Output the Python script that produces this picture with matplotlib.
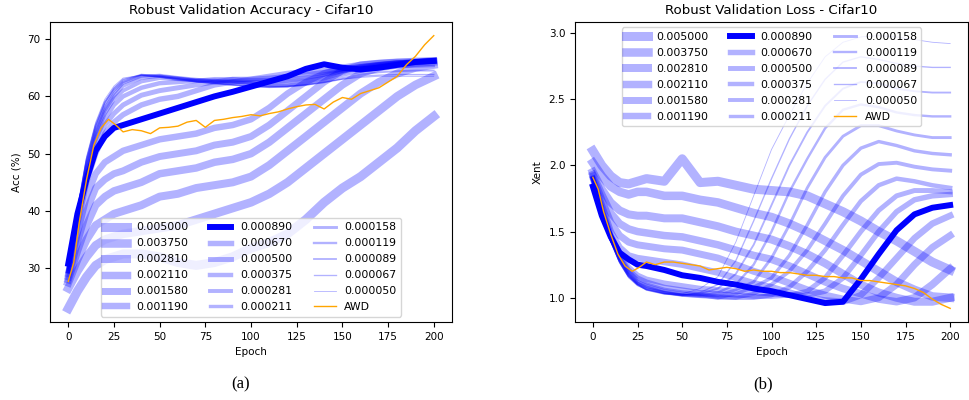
import matplotlib
matplotlib.use("Agg")
import matplotlib.pyplot as plt
import numpy as np

plt.rcParams['font.size'] = 7.5

# weight decay values (legend order)
wds = ["0.005000", "0.003750", "0.002810", "0.002110", "0.001580", "0.001190",
       "0.000890", "0.000670", "0.000500", "0.000375", "0.000281", "0.000211",
       "0.000158", "0.000119", "0.000089", "0.000067", "0.000050"]

epochs = [0, 5, 10, 15, 20, 25, 30, 40, 50, 60, 70, 80, 90, 100, 110, 120,
          130, 140, 150, 160, 170, 180, 190, 200]

# robust validation accuracy (%)
acc_005000 = [23.0, 26.0, 28.5, 30.5, 31.5, 32.0, 32.5, 32.5, 32.0, 31.0, 30.5, 31.0, 32.0, 33.5, 34.5, 36.0, 38.5, 41.5, 44.0, 46.0, 48.5, 51.0, 54.0, 56.5]
acc_003750 = [26.5, 29.5, 32.0, 34.0, 35.0, 35.5, 36.0, 36.5, 37.0, 37.5, 38.5, 39.5, 40.5, 41.5, 43.0, 45.0, 47.5, 50.0, 52.5, 55.0, 57.5, 60.0, 62.0, 63.5]
acc_002810 = [27.5, 31.5, 35.0, 37.5, 38.5, 39.5, 40.0, 41.0, 42.5, 43.0, 44.0, 44.5, 45.0, 46.0, 48.0, 50.5, 53.0, 55.5, 58.0, 60.5, 62.5, 64.0, 65.0, 65.5]
acc_002110 = [28.0, 33.0, 37.5, 41.0, 42.5, 43.5, 44.0, 45.0, 46.5, 47.0, 47.5, 48.5, 49.0, 50.0, 52.0, 54.5, 57.0, 59.5, 62.0, 64.0, 65.0, 65.5, 65.8, 66.0]
acc_001580 = [28.5, 34.5, 40.0, 44.0, 45.5, 46.5, 47.0, 48.5, 49.5, 50.0, 50.5, 51.5, 52.0, 53.0, 55.0, 57.5, 60.0, 62.5, 64.5, 65.5, 65.8, 66.0, 66.0, 66.2]
acc_001190 = [29.0, 36.0, 42.5, 46.5, 48.5, 49.5, 50.5, 51.5, 52.5, 53.0, 53.5, 54.5, 55.0, 56.0, 58.0, 60.5, 62.5, 64.0, 65.0, 65.5, 65.8, 66.0, 66.2, 66.3]
acc_000890 = [30.8, 39.5, 45.5, 50.5, 53.0, 54.5, 55.0, 56.0, 57.0, 58.0, 59.0, 60.0, 60.8, 61.7, 62.6, 63.5, 64.8, 65.6, 65.0, 64.7, 65.0, 65.5, 66.0, 66.2]
acc_000670 = [29.5, 37.5, 45.0, 50.0, 53.5, 55.5, 56.8, 58.5, 59.5, 60.0, 61.0, 62.0, 62.5, 63.0, 63.5, 64.0, 64.3, 64.5, 64.8, 65.2, 65.5, 65.8, 66.0, 66.2]
acc_000500 = [29.5, 38.0, 46.0, 51.5, 55.0, 57.0, 58.5, 60.2, 61.0, 61.5, 62.0, 62.5, 63.0, 63.0, 63.2, 63.5, 63.8, 64.2, 64.7, 65.2, 65.6, 65.9, 66.0, 66.2]
acc_000375 = [29.5, 38.5, 46.5, 52.5, 56.0, 58.5, 60.0, 61.5, 62.3, 62.5, 62.7, 63.0, 63.0, 62.8, 62.8, 63.0, 63.3, 63.8, 64.5, 65.2, 65.6, 65.9, 66.1, 66.3]
acc_000281 = [29.5, 39.0, 47.0, 53.0, 57.0, 59.5, 61.0, 62.6, 63.2, 63.0, 62.8, 62.8, 62.7, 62.5, 62.5, 62.7, 63.0, 63.6, 64.4, 65.1, 65.6, 65.9, 66.1, 66.2]
acc_000211 = [29.5, 39.0, 47.5, 53.5, 57.5, 60.0, 61.8, 63.2, 63.5, 63.2, 62.8, 62.6, 62.5, 62.3, 62.2, 62.3, 62.7, 63.3, 64.2, 65.0, 65.5, 65.8, 66.0, 66.0]
acc_000158 = [29.8, 39.5, 48.0, 54.0, 58.0, 60.5, 62.3, 63.5, 63.7, 63.3, 63.0, 62.7, 62.5, 62.3, 62.0, 62.0, 62.4, 63.0, 64.0, 64.8, 65.3, 65.6, 65.8, 65.9]
acc_000119 = [29.8, 39.5, 48.5, 54.5, 58.5, 61.0, 62.5, 63.7, 63.6, 63.2, 62.8, 62.5, 62.3, 62.0, 61.8, 61.8, 62.2, 62.8, 63.6, 64.3, 64.8, 65.1, 65.2, 65.3]
acc_000089 = [30.0, 40.0, 49.0, 55.0, 59.0, 61.3, 62.8, 63.8, 63.5, 63.0, 62.6, 62.3, 62.0, 61.8, 61.6, 61.7, 62.0, 62.5, 63.2, 63.8, 64.2, 64.4, 64.5, 64.5]
acc_000067 = [30.0, 40.0, 49.0, 55.0, 59.0, 61.5, 63.0, 63.7, 63.4, 63.0, 62.6, 62.3, 62.0, 61.7, 61.6, 61.7, 62.0, 62.4, 63.0, 63.5, 63.7, 63.8, 63.8, 63.8]
acc_000050 = [30.0, 40.5, 49.5, 55.5, 59.5, 61.8, 63.2, 63.7, 63.3, 62.8, 62.5, 62.2, 62.0, 61.8, 61.7, 61.8, 62.0, 62.5, 63.0, 63.3, 63.5, 63.5, 63.5, 63.5]

# robust validation loss (xent)
loss_005000 = [2.11, 2.00, 1.92, 1.87, 1.86, 1.88, 1.90, 1.88, 2.05, 1.87, 1.88, 1.85, 1.82, 1.81, 1.80, 1.77, 1.71, 1.65, 1.58, 1.50, 1.43, 1.35, 1.27, 1.21]
loss_003750 = [2.02, 1.92, 1.84, 1.80, 1.78, 1.80, 1.80, 1.77, 1.77, 1.74, 1.72, 1.68, 1.64, 1.61, 1.56, 1.50, 1.43, 1.36, 1.28, 1.20, 1.12, 1.06, 1.01, 1.00]
loss_002810 = [1.95, 1.82, 1.72, 1.66, 1.63, 1.62, 1.62, 1.60, 1.60, 1.57, 1.54, 1.50, 1.47, 1.44, 1.39, 1.33, 1.26, 1.18, 1.10, 1.04, 1.00, 0.97, 0.97, 1.00]
loss_002110 = [1.93, 1.78, 1.64, 1.56, 1.52, 1.50, 1.49, 1.47, 1.46, 1.43, 1.40, 1.36, 1.32, 1.29, 1.24, 1.18, 1.12, 1.07, 1.03, 0.99, 0.97, 1.00, 1.10, 1.22]
loss_001580 = [1.92, 1.74, 1.57, 1.47, 1.42, 1.40, 1.39, 1.37, 1.36, 1.33, 1.30, 1.25, 1.20, 1.16, 1.11, 1.06, 1.02, 0.99, 0.97, 1.00, 1.10, 1.25, 1.38, 1.47]
loss_001190 = [1.90, 1.70, 1.50, 1.38, 1.32, 1.30, 1.29, 1.27, 1.25, 1.22, 1.19, 1.15, 1.11, 1.08, 1.04, 1.00, 0.98, 0.97, 1.02, 1.15, 1.30, 1.45, 1.56, 1.62]
loss_000890 = [1.84, 1.62, 1.46, 1.34, 1.29, 1.25, 1.24, 1.21, 1.17, 1.15, 1.12, 1.10, 1.07, 1.05, 1.02, 0.99, 0.96, 0.97, 1.14, 1.33, 1.51, 1.63, 1.68, 1.70]
loss_000670 = [1.90, 1.68, 1.48, 1.33, 1.23, 1.17, 1.14, 1.11, 1.09, 1.07, 1.06, 1.05, 1.04, 1.03, 1.02, 1.02, 1.05, 1.15, 1.32, 1.50, 1.65, 1.74, 1.77, 1.78]
loss_000500 = [1.90, 1.67, 1.47, 1.32, 1.21, 1.15, 1.12, 1.08, 1.06, 1.04, 1.03, 1.02, 1.01, 1.01, 1.02, 1.05, 1.15, 1.32, 1.50, 1.66, 1.77, 1.81, 1.81, 1.80]
loss_000375 = [1.90, 1.67, 1.46, 1.31, 1.20, 1.13, 1.10, 1.06, 1.04, 1.03, 1.01, 1.00, 1.00, 1.02, 1.08, 1.20, 1.36, 1.55, 1.73, 1.85, 1.90, 1.88, 1.85, 1.83]
loss_000281 = [1.90, 1.66, 1.45, 1.30, 1.19, 1.12, 1.09, 1.05, 1.03, 1.02, 1.00, 1.00, 1.03, 1.10, 1.20, 1.36, 1.56, 1.77, 1.93, 2.01, 2.02, 1.99, 1.97, 1.96]
loss_000211 = [1.90, 1.66, 1.45, 1.29, 1.18, 1.11, 1.08, 1.04, 1.02, 1.01, 1.00, 1.03, 1.08, 1.15, 1.32, 1.55, 1.80, 2.00, 2.13, 2.18, 2.15, 2.11, 2.09, 2.08]
loss_000158 = [1.90, 1.66, 1.44, 1.28, 1.17, 1.11, 1.07, 1.04, 1.02, 1.01, 1.02, 1.06, 1.12, 1.30, 1.55, 1.83, 2.06, 2.22, 2.30, 2.30, 2.26, 2.23, 2.21, 2.21]
loss_000119 = [1.90, 1.65, 1.44, 1.28, 1.17, 1.10, 1.07, 1.04, 1.02, 1.02, 1.04, 1.10, 1.25, 1.50, 1.80, 2.05, 2.28, 2.42, 2.46, 2.44, 2.40, 2.38, 2.37, 2.37]
loss_000089 = [1.90, 1.65, 1.43, 1.27, 1.16, 1.10, 1.06, 1.03, 1.02, 1.03, 1.07, 1.18, 1.40, 1.70, 2.00, 2.25, 2.45, 2.58, 2.63, 2.62, 2.58, 2.56, 2.55, 2.55]
loss_000067 = [1.90, 1.65, 1.43, 1.27, 1.16, 1.10, 1.06, 1.03, 1.02, 1.04, 1.10, 1.28, 1.58, 1.90, 2.20, 2.45, 2.65, 2.78, 2.82, 2.80, 2.77, 2.75, 2.74, 2.74]
loss_000050 = [1.90, 1.64, 1.42, 1.26, 1.15, 1.09, 1.06, 1.03, 1.03, 1.07, 1.16, 1.42, 1.77, 2.12, 2.38, 2.62, 2.82, 2.93, 2.97, 2.98, 2.97, 2.95, 2.93, 2.92]

# AWD run
awd_epochs = [0, 3, 6, 10, 14, 18, 22, 26, 30, 35, 40, 45, 50, 55, 60, 65, 70, 75, 80,
              85, 90, 95, 100, 105, 110, 115, 120, 125, 130, 135, 140, 145, 150, 155,
              160, 165, 170, 175, 180, 185, 190, 195, 200]
awd_acc = [27.7, 31.0, 38.0, 45.5, 51.5, 54.5, 56.0, 55.0, 53.8, 54.2, 54.0, 53.5, 54.5,
           54.6, 54.8, 55.5, 55.8, 54.6, 55.8, 56.0, 56.3, 56.5, 56.8, 56.6, 57.0, 57.3,
           57.8, 58.2, 58.5, 58.6, 57.8, 59.0, 59.8, 59.5, 60.5, 61.0, 61.5, 62.5, 63.5,
           65.5, 67.0, 69.0, 70.6]
awd_loss = [1.91, 1.82, 1.65, 1.48, 1.33, 1.24, 1.20, 1.23, 1.27, 1.25, 1.27, 1.27, 1.26,
            1.25, 1.24, 1.21, 1.22, 1.23, 1.22, 1.20, 1.21, 1.20, 1.20, 1.19, 1.19, 1.18,
            1.17, 1.17, 1.16, 1.16, 1.15, 1.15, 1.13, 1.13, 1.12, 1.11, 1.10, 1.09, 1.07,
            1.04, 0.99, 0.95, 0.92]

acc_runs = [acc_005000, acc_003750, acc_002810, acc_002110, acc_001580, acc_001190,
            acc_000890, acc_000670, acc_000500, acc_000375, acc_000281, acc_000211,
            acc_000158, acc_000119, acc_000089, acc_000067, acc_000050]
loss_runs = [loss_005000, loss_003750, loss_002810, loss_002110, loss_001580, loss_001190,
             loss_000890, loss_000670, loss_000500, loss_000375, loss_000281, loss_000211,
             loss_000158, loss_000119, loss_000089, loss_000067, loss_000050]


def draw(ax, runs, awd, title, ylabel, legend_loc):
    # thicker line = larger weight decay
    lw = np.linspace(6.5, 0.6, len(runs))
    for i, run in enumerate(runs):
        if wds[i] == "0.000890":
            ax.plot(epochs, run, color="blue", lw=lw[i], label=wds[i])
        else:
            ax.plot(epochs, run, color="blue", alpha=0.3, lw=lw[i], label=wds[i])
    ax.plot(awd_epochs, awd, color="orange", lw=1.0, label="AWD")
    ax.set_title(title, fontsize=9.6)
    ax.set_xlabel("Epoch")
    ax.set_ylabel(ylabel)
    ax.set_xticks([0, 25, 50, 75, 100, 125, 150, 175, 200])
    ax.legend(loc=legend_loc, ncol=3, fontsize=7.8, labelspacing=0.55)


fig = plt.figure(figsize=(9.69, 4), dpi=100)
ax1 = fig.add_axes([0.0516, 0.195, 0.4149, 0.75])
ax2 = fig.add_axes([0.5934, 0.195, 0.4056, 0.75])
draw(ax1, acc_runs, awd_acc, "Robust Validation Accuracy - Cifar10", "Acc (%)", "lower center")
draw(ax2, loss_runs, awd_loss, "Robust Validation Loss - Cifar10", "Xent", "upper center")

fig.text(0.248, 0.03, "(a)", family="Liberation Serif", fontsize=12, ha="center")
fig.text(0.787, 0.03, "(b)", family="Liberation Serif", fontsize=12, ha="center")

fig.savefig("out.png", dpi=100)
